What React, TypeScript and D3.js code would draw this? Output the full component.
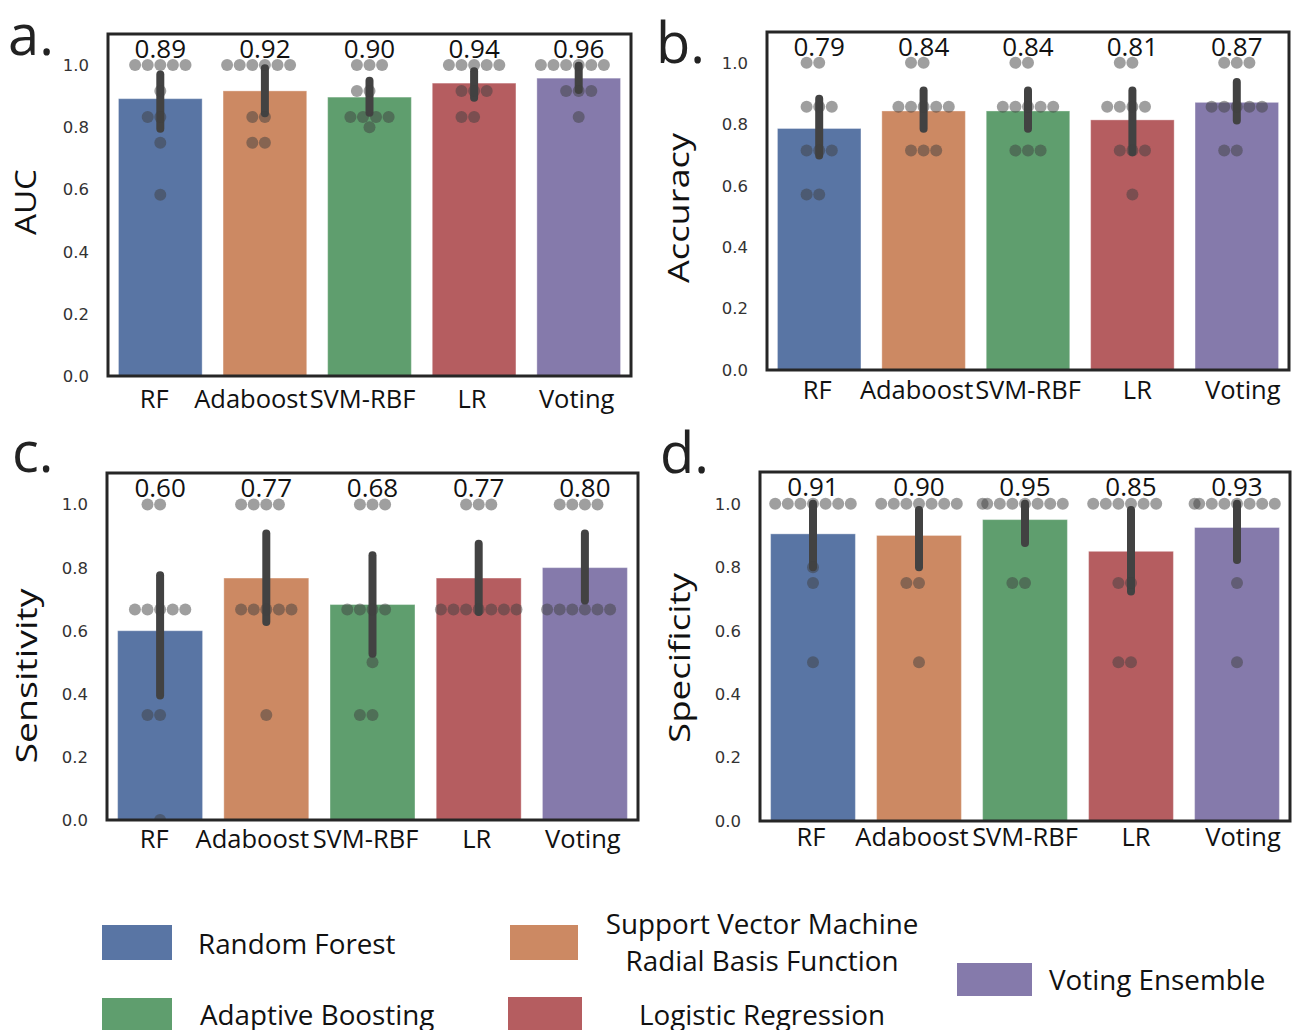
import React from "react";
import * as d3 from "d3";

// ---------- data ----------
const models = ["RF", "Adaboost", "SVM-RBF", "LR", "Voting"];
const barColors = ["#5975a4", "#cc8963", "#5f9e6e", "#b55d60", "#857aab"];
const legendNames = [
  "Random Forest",
  "Adaptive Boosting",
  "Support Vector Machine\nRadial Basis Function",
  "Logistic Regression",
  "Voting Ensemble",
];
const legendColors = ["#5975a4", "#5f9e6e", "#cc8963", "#b55d60", "#857aab"];
const yTicks = [0, 0.2, 0.4, 0.6, 0.8, 1.0];

// a. AUC
const aucMeans = [0.892, 0.917, 0.897, 0.942, 0.958];
const aucLabels = ["0.89", "0.92", "0.90", "0.94", "0.96"];
const aucCiLow = [0.795, 0.845, 0.847, 0.895, 0.92];
const aucCiHigh = [0.97, 0.99, 0.95, 0.98, 0.998];
const aucFolds = [
  [1, 1, 1, 1, 1, 0.917, 0.833, 0.833, 0.75, 0.583],
  [1, 1, 1, 1, 1, 1, 0.833, 0.833, 0.75, 0.75],
  [1, 1, 1, 0.917, 0.917, 0.833, 0.833, 0.833, 0.833, 0.8],
  [1, 1, 1, 1, 1, 0.917, 0.917, 0.917, 0.833, 0.833],
  [1, 1, 1, 1, 1, 1, 0.917, 0.917, 0.917, 0.833],
];

// b. Accuracy
const accMeans = [0.786, 0.843, 0.843, 0.814, 0.871];
const accLabels = ["0.79", "0.84", "0.84", "0.81", "0.87"];
const accCiLow = [0.698, 0.785, 0.785, 0.709, 0.812];
const accCiHigh = [0.883, 0.91, 0.91, 0.91, 0.937];
const accFolds = [
  [1, 1, 0.857, 0.857, 0.857, 0.714, 0.714, 0.714, 0.571, 0.571],
  [1, 1, 0.857, 0.857, 0.857, 0.857, 0.857, 0.714, 0.714, 0.714],
  [1, 1, 0.857, 0.857, 0.857, 0.857, 0.857, 0.714, 0.714, 0.714],
  [1, 1, 0.857, 0.857, 0.857, 0.857, 0.714, 0.714, 0.714, 0.571],
  [1, 1, 1, 0.857, 0.857, 0.857, 0.857, 0.857, 0.714, 0.714],
];

// c. Sensitivity
const senMeans = [0.6, 0.767, 0.683, 0.767, 0.8];
const senLabels = ["0.60", "0.77", "0.68", "0.77", "0.80"];
const senCiLow = [0.395, 0.628, 0.527, 0.659, 0.696];
const senCiHigh = [0.776, 0.908, 0.839, 0.876, 0.908];
const senFolds = [
  [1, 1, 0.667, 0.667, 0.667, 0.667, 0.667, 0.333, 0.333, 0],
  [1, 1, 1, 1, 0.667, 0.667, 0.667, 0.667, 0.667, 0.333],
  [1, 1, 1, 0.667, 0.667, 0.667, 0.667, 0.5, 0.333, 0.333],
  [1, 1, 1, 0.667, 0.667, 0.667, 0.667, 0.667, 0.667, 0.667],
  [1, 1, 1, 1, 0.667, 0.667, 0.667, 0.667, 0.667, 0.667],
];

// d. Specificity
const speMeans = [0.905, 0.9, 0.95, 0.85, 0.925];
const speLabels = ["0.91", "0.90", "0.95", "0.85", "0.93"];
const speCiLow = [0.8, 0.8, 0.876, 0.723, 0.823];
const speCiHigh = [1.0, 0.98, 1.0, 0.98, 1.0];
const speFolds = [
  [1, 1, 1, 1, 1, 1, 1, 0.8, 0.75, 0.5],
  [1, 1, 1, 1, 1, 1, 1, 0.75, 0.75, 0.5],
  [1, 1, 1, 1, 1, 1, 1, 1, 0.75, 0.75],
  [1, 1, 1, 1, 1, 1, 0.75, 0.75, 0.5, 0.5],
  [1, 1, 1, 1, 1, 1, 1, 1, 0.75, 0.5],
];

// ---------- layout ----------
const leftNudge = [-6, -14, -7, -2, -2];
const rightNudge = [-2, -7, 0, 5, 6];

const panels = [
  { id: "a", title: "AUC", titleLen: 66, means: aucMeans, labels: aucLabels, lo: aucCiLow, hi: aucCiHigh, folds: aucFolds,
    box: { x0: 108, x1: 631, y0: 34, y1: 376 }, letter: { x: 8, y: 55 }, titleX: 36, titleY: 202, xlabY: 408, nudge: leftNudge },
  { id: "b", title: "Accuracy", titleLen: 150, means: accMeans, labels: accLabels, lo: accCiLow, hi: accCiHigh, folds: accFolds,
    box: { x0: 767, x1: 1289, y0: 32, y1: 370 }, letter: { x: 656, y: 63 }, titleX: 689, titleY: 208, xlabY: 399, nudge: rightNudge },
  { id: "c", title: "Sensitivity", titleLen: 175, means: senMeans, labels: senLabels, lo: senCiLow, hi: senCiHigh, folds: senFolds,
    box: { x0: 107, x1: 638, y0: 473, y1: 820 }, letter: { x: 12, y: 472 }, titleX: 37, titleY: 676, xlabY: 848, nudge: leftNudge },
  { id: "d", title: "Specificity", titleLen: 170, means: speMeans, labels: speLabels, lo: speCiLow, hi: speCiHigh, folds: speFolds,
    box: { x0: 760, x1: 1290, y0: 472, y1: 821 }, letter: { x: 660, y: 473 }, titleX: 690, titleY: 658, xlabY: 846, nudge: rightNudge },
];

const TXT = "'Open Sans', 'Noto Sans', sans-serif";
const DOT_R = 6;

function swarm(values: number[], y: (v: number) => number, cx: number, r: number, half: number) {
  const pts = values.map((v) => ({ v, y: y(v) })).sort((a, b) => a.v - b.v);
  const placed: { x: number; y: number }[] = [];
  const d = 2 * r;
  for (const p of pts) {
    const nb = placed.filter((q) => Math.abs(q.y - p.y) < d);
    const cands: number[] = [cx];
    let leftFirst = true;
    for (const q of nb) {
      const dy = p.y - q.y;
      const dx = Math.sqrt(Math.max(d * d - dy * dy, 0)) * 1.05;
      if (leftFirst) cands.push(q.x - dx, q.x + dx);
      else cands.push(q.x + dx, q.x - dx);
      leftFirst = !leftFirst;
    }
    const order = cands
      .map((c, i) => ({ c, i }))
      .sort((a, b) => {
        const da = Math.round(Math.abs(a.c - cx) * 1e6);
        const db = Math.round(Math.abs(b.c - cx) * 1e6);
        return da - db || a.i - b.i;
      });
    let chosen = cx;
    for (const { c } of order) {
      if (nb.every((q) => (c - q.x) ** 2 + (p.y - q.y) ** 2 >= d * d - 1e-6)) {
        chosen = c;
        break;
      }
    }
    placed.push({ x: chosen, y: p.y });
  }
  return placed.map((p) => ({ x: Math.max(cx - half, Math.min(cx + half, p.x)), y: p.y }));
}

function Panel({ p }: { p: (typeof panels)[number] }) {
  const { box } = p;
  const x = d3.scaleBand<string>().domain(models).range([box.x0, box.x1]).paddingInner(0.2).paddingOuter(0.1);
  const y = d3.scaleLinear().domain([0, 1.1]).range([box.y1, box.y0]);
  const step = x.step();
  const clipId = `clip-${p.id}`;
  return (
    <g>
      <defs>
        <clipPath id={clipId}>
          <rect x={box.x0} y={box.y0} width={box.x1 - box.x0} height={box.y1 - box.y0} />
        </clipPath>
      </defs>
      {models.map((m, i) => (
        <rect key={m} x={x(m)} y={y(p.means[i])} width={x.bandwidth()} height={y(0) - y(p.means[i])}
          fill={barColors[i]} stroke="#ffffff" strokeOpacity={0.35} strokeWidth={1} />
      ))}
      {models.map((m, i) => {
        const cx = (x(m) as number) + x.bandwidth() / 2;
        return (
          <line key={m} x1={cx} x2={cx} y1={y(p.lo[i])} y2={y(p.hi[i])} stroke="#424242" strokeWidth={8} strokeLinecap="round" />
        );
      })}
      <g clipPath={`url(#${clipId})`}>
        {models.map((m, i) => {
          const cx = (x(m) as number) + x.bandwidth() / 2;
          const pts = swarm(p.folds[i], y, cx, DOT_R, step * 0.4);
          return pts.map((pt, j) => (
            <circle key={`${m}-${j}`} cx={pt.x} cy={pt.y} r={DOT_R} fill="#404040" fillOpacity={0.5} />
          ));
        })}
      </g>
      <rect x={box.x0} y={box.y0} width={box.x1 - box.x0} height={box.y1 - box.y0} fill="none" stroke="#262626" strokeWidth={3} />
      {models.map((m, i) => (
        <text key={m} x={(x(m) as number) + x.bandwidth() / 2} y={box.y0 + 24} textAnchor="middle"
          fontFamily={TXT} fontSize={26} fill="#111">{p.labels[i]}</text>
      ))}
      {yTicks.map((t) => (
        <text key={t} x={box.x0 - 19} y={y(t)} dy="0.36em" textAnchor="end" fontFamily="'DejaVu Sans', sans-serif"
          fontSize={16.5} fill="#333">{t.toFixed(1)}</text>
      ))}
      {models.map((m, i) => (
        <text key={m} x={(x(m) as number) + x.bandwidth() / 2 + p.nudge[i]} y={p.xlabY} textAnchor="middle"
          fontFamily={TXT} fontSize={25.5} fill="#111">{m}</text>
      ))}
      <text transform={`translate(${p.titleX},${p.titleY}) rotate(-90)`} textAnchor="middle" fontFamily={TXT}
        fontSize={29} fill="#111" textLength={p.titleLen} lengthAdjust="spacingAndGlyphs">{p.title}</text>
      <text x={p.letter.x} y={p.letter.y} fontFamily={TXT} fontSize={56} fill="#222">{p.id}.</text>
    </g>
  );
}

function Legend() {
  const items = [
    { i: 0, rx: 102, ry: 925, w: 70, h: 35, tx: 198, ty: 954, anchor: "start" },
    { i: 1, rx: 102, ry: 998, w: 70, h: 35, tx: 200, ty: 1025, anchor: "start" },
    { i: 2, rx: 510, ry: 925, w: 68, h: 35, tx: 762, ty: 934, anchor: "middle" },
    { i: 3, rx: 508, ry: 997, w: 74, h: 35, tx: 762, ty: 1025, anchor: "middle" },
    { i: 4, rx: 957, ry: 963, w: 75, h: 33, tx: 1049, ty: 990, anchor: "start" },
  ];
  return (
    <g>
      {items.map((it) => (
        <g key={it.i}>
          <rect x={it.rx} y={it.ry} width={it.w} height={it.h} fill={legendColors[it.i]} />
          {legendNames[it.i].split("\n").map((line, k) => (
            <text key={k} x={it.tx} y={it.ty + k * 37} textAnchor={it.anchor as any} fontFamily={TXT} fontSize={27.8} fill="#111">
              {line}
            </text>
          ))}
        </g>
      ))}
    </g>
  );
}

export default function App() {
  return (
    <svg width={1297} height={1030} style={{ position: "absolute", left: 0, top: 0, background: "#fff" }}>
      <rect width={1297} height={1030} fill="#fff" />
      {panels.map((p) => (
        <Panel key={p.id} p={p} />
      ))}
      <Legend />
    </svg>
  );
}
